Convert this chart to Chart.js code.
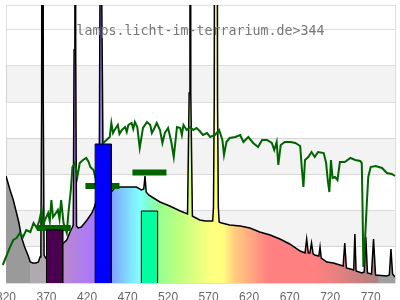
<!DOCTYPE html>
<html>
<head>
<meta charset="utf-8">
<script src="https://cdn.jsdelivr.net/npm/chart.js@4.4.0/dist/chart.umd.min.js"></script>
<style>
html, body { margin: 0; padding: 0; background: #fff; }
</style>
</head>
<body>
<canvas id="myChart" width="400" height="300"></canvas>
<script>
const title = 'lamps.licht-im-terrarium.de>344';
const xTicks = [320, 370, 420, 470, 520, 570, 620, 670, 720, 770];
const yGrid = [0, 36.2, 72.4, 108.6, 144.8, 181, 217.2, 253.4, 278];

// lamp spectrum (black outline, rainbow fill)
const lampNm = [320, 325, 329, 333, 336, 339, 343, 347, 350, 353, 357, 360, 362, 363, 364, 365, 366, 367, 369, 375,
  382, 388, 391, 395, 399, 402, 403, 404, 405, 406, 407, 409, 413, 417, 420, 426, 429, 433, 435, 436,
  437, 438, 440, 445, 449, 454, 460, 469, 481, 487, 490, 491.5, 493, 496, 502, 510, 522, 535, 544, 546,
  547, 548, 550, 552, 559, 566, 575, 576, 577, 579, 581, 582, 583, 586, 596, 609, 621, 633, 646, 658,
  670, 683, 689, 691, 693, 695, 697, 699, 701, 706, 707.5, 709, 716, 724, 732, 736, 738, 740, 745, 749,
  750.5, 752, 759, 762, 764, 766, 771, 773.5, 776, 790, 793, 795, 797, 800];
const lampVal = [107, 93, 83, 70, 60, 46, 36, 28, 21, 20, 20, 21, 26, 30, 180, 1200, 180, 28, 25, 30,
  34, 38, 40, 43, 51, 56, 58, 233, 1500, 233, 57, 55, 56, 60, 63, 70, 76, 86, 92, 300,
  2000, 300, 98, 94, 90, 95, 96, 96, 96, 93, 94, 107, 91, 88, 85, 81, 77, 72, 69, 190,
  1500, 190, 67, 66, 63, 62, 62, 75, 186, 2000, 186, 76, 61, 60, 58, 57, 55, 51, 48, 44,
  39, 32, 30, 44, 30, 30, 40, 29, 28, 27, 36, 25, 21, 20, 18, 17, 40, 15, 14, 13,
  49, 12, 10, 11, 46, 10, 9, 44, 8, 7, 8, 34, 9, 6];

// daylight reference (green line)
const sunNm = [313, 316, 320, 325, 329, 333, 337, 341, 345, 350, 354, 358, 361, 364, 366, 368, 372, 374, 376, 378,
  380, 384, 386, 388, 391, 395, 397, 400, 402, 405, 408, 411, 415, 419, 422, 424, 428, 432, 436, 440,
  448, 450, 452, 454, 458, 460, 463, 467, 469, 471, 475, 477, 479, 482, 485, 489, 494, 498, 500, 502,
  506, 510, 513, 516, 520, 524, 527, 531, 535, 537, 539, 543, 547, 551, 555, 559, 563, 568, 572, 578,
  583, 587, 589, 592, 596, 603, 609, 613, 619, 625, 631, 636, 642, 648, 651, 654, 656, 659, 664, 671,
  677, 683, 685, 687, 689, 693, 697, 701, 705, 712, 715, 717, 719, 721, 723, 726, 729, 732, 738, 745,
  751, 757, 759, 760, 761, 763, 765, 767, 770, 776, 784, 790, 796, 800];
const sunVal = [11, 18, 26, 36, 43, 45, 50, 46, 53, 51, 60, 55, 62, 73, 58, 63, 70, 62, 83, 66,
  68, 73, 64, 83, 60, 50, 70, 93, 116, 120, 106, 120, 123, 125, 121, 116, 113, 100, 118, 140,
  146, 160, 150, 153, 158, 149, 153, 156, 151, 158, 160, 154, 161, 156, 135, 155, 161, 158, 150, 153,
  160, 153, 140, 150, 155, 141, 126, 156, 155, 148, 158, 153, 156, 153, 155, 152, 148, 150, 146, 148,
  153, 143, 128, 141, 145, 146, 148, 141, 146, 140, 136, 143, 143, 140, 133, 141, 118, 138, 141, 141,
  140, 137, 115, 96, 123, 126, 131, 126, 131, 130, 120, 103, 91, 123, 105, 106, 103, 121, 121, 125,
  123, 122, 120, 73, 16, 43, 76, 106, 116, 117, 115, 110, 109, 107];

// filled bands
const barFrom = [370, 430, 487];
const barTo = [390, 450, 507];
const barVal = [53, 139, 72];
const barColor = ['#4b004f', '#0000ff', '#00ffa0'];

// horizontal marks
const markFrom = [358, 418, 476];
const markTo = [400, 460, 518];
const markVal = [55, 97, 110.5];

// fill colours along the wavelength axis
const rainbowNm = [320, 350, 350, 370, 390, 428, 450, 472, 485, 497, 510, 535, 560, 574, 588, 602, 627, 643, 700, 720, 750, 779, 780, 800];
const rainbowColor = ['#9a9a9a', '#9a9a9a', '#b0aab0', '#b0aab0', '#bb88cc', '#a878ff', '#80a0ff', '#80e0ff', '#80ffff', '#80ffc8',
  '#98ff90', '#c0ff80', '#e8ff80', '#ffff80', '#ffff80', '#ffcc80', '#ffa080', '#ff8080', '#ff8080', '#f08080',
  '#d08080', '#b08080', '#a0a0a0', '#a0a0a0'];

function rainbow(ctx) {
  const chart = ctx.chart;
  if (!chart.chartArea) return null;
  const x = chart.scales.x;
  const g = chart.ctx.createLinearGradient(x.getPixelForValue(320), 0, x.getPixelForValue(800), 0);
  rainbowNm.forEach((nm, i) => g.addColorStop((nm - 320) / 480, rainbowColor[i]));
  return g;
}

const datasets = [];
barFrom.forEach((f, i) => datasets.push({
  data: [{x: f, y: 0}, {x: f, y: barVal[i]}, {x: barTo[i], y: barVal[i]}, {x: barTo[i], y: 0}],
  borderColor: '#000', borderWidth: 1, backgroundColor: barColor[i], fill: 'origin', order: 0
}));
markFrom.forEach((f, i) => datasets.push({
  data: [{x: f, y: markVal[i]}, {x: markTo[i], y: markVal[i]}],
  borderColor: '#006400', borderWidth: 6, borderCapStyle: 'butt', fill: false, order: 1
}));
datasets.push({
  data: sunNm.map((nm, i) => ({x: nm, y: sunVal[i]})),
  borderColor: '#006400', borderWidth: 2, fill: false, clip: false, order: 2
});
datasets.push({
  data: lampNm.map((nm, i) => ({x: nm, y: lampVal[i]})),
  borderColor: '#000', borderWidth: 1.5, backgroundColor: rainbow, fill: 'origin', order: 3
});

const backdrop = {
  id: 'backdrop',
  beforeDraw(chart) {
    const {ctx, chartArea: a, scales: {y}} = chart;
    ctx.save();
    ctx.fillStyle = '#f3f3f3';
    for (let i = 1; i + 1 < yGrid.length - 1; i += 2) {
      const top = y.getPixelForValue(yGrid[i + 1]);
      const bot = y.getPixelForValue(yGrid[i]);
      ctx.fillRect(a.left, top, a.right - a.left, bot - top);
    }
    ctx.restore();
  },
  beforeDatasetsDraw(chart) {
    const {ctx, chartArea: a} = chart;
    ctx.save();
    ctx.strokeStyle = 'rgba(0,0,0,0.13)';
    ctx.lineWidth = 1;
    ctx.beginPath();
    ctx.moveTo(a.right + 0.5, a.top);
    ctx.lineTo(a.right + 0.5, a.bottom);
    ctx.stroke();
    ctx.restore();
  },
  afterDraw(chart) {
    const {ctx, chartArea: a} = chart;
    ctx.save();
    ctx.font = '13.3px "DejaVu Sans Mono"';
    ctx.fillStyle = '#777';
    ctx.textAlign = 'center';
    ctx.textBaseline = 'alphabetic';
    ctx.fillText(title, (a.left + a.right) / 2, 35);
    ctx.restore();
  }
};

const config = {
  type: 'line',
  data: {datasets: datasets},
  options: {
    responsive: false,
    animation: false,
    elements: {point: {radius: 0}, line: {tension: 0}},
    layout: {padding: {left: 6, right: 5, top: 5, bottom: 0}},
    plugins: {legend: {display: false}, tooltip: {enabled: false}, title: {display: false}},
    scales: {
      x: {
        type: 'linear', min: 320, max: 800,
        afterBuildTicks: s => { s.ticks = xTicks.map(v => ({value: v})); },
        afterFit: s => { s.height = 17; s.paddingLeft = 0; s.paddingRight = 0; },
        grid: {display: false, drawTicks: false},
        border: {display: false},
        ticks: {color: '#666', font: {size: 12}, padding: 7, autoSkip: false, maxRotation: 0}
      },
      y: {
        min: 0, max: 278,
        afterBuildTicks: s => { s.ticks = yGrid.map(v => ({value: v})); },
        afterFit: s => { s.width = 0; },
        grid: {color: 'rgba(0,0,0,0.13)', drawTicks: false},
        border: {color: 'rgba(0,0,0,0.13)'},
        ticks: {display: false}
      }
    }
  },
  plugins: [backdrop]
};

const myChart = new Chart(document.getElementById('myChart'), config);
</script>
</body>
</html>
